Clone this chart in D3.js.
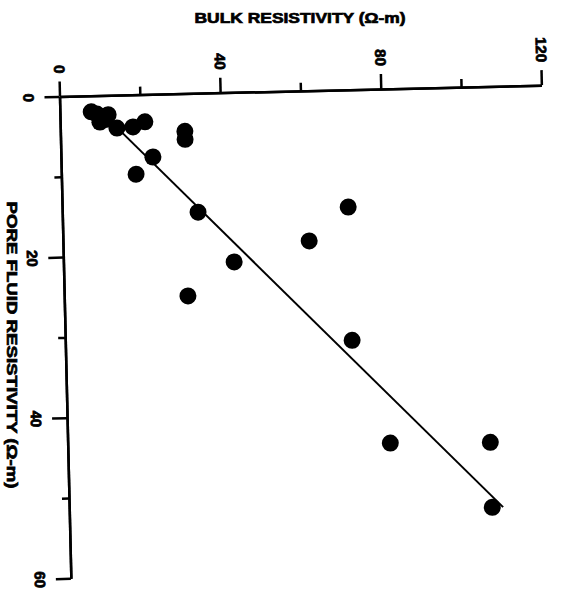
<!DOCTYPE html>
<html>
<head>
<meta charset="utf-8">
<script src="https://cdn.jsdelivr.net/npm/d3@7"></script>
<style>
  body { margin: 0; background: #fff; }
  svg { display: block; }
  text { font-family: "Liberation Sans", Arial, sans-serif; font-weight: bold; fill: #000; stroke: #000; stroke-width: 0.7px; }
</style>
</head>
<body>
<svg id="drawing_region"></svg>
<script>
// values
const bulk = [7.8, 9.2, 9.9, 12.0, 11.2, 14.1, 18.1, 21.1, 31.0, 31.0, 22.9, 18.6,
              33.8, 30.8, 42.5, 61.3, 71.2, 71.4, 80.3, 105.2, 105.3];
const pore = [2.0, 2.3, 3.3, 2.4, 3.0, 4.1, 4.0, 3.4, 4.7, 5.7, 7.8, 9.9,
              14.8, 25.2, 21.1, 18.7, 14.6, 31.2, 44.1, 44.3, 52.4];
// fitted line end points
const fitBulk = [9, 108];
const fitPore = [1.4, 52.4];
const xMajor = [0, 40, 80, 120];
const xMinor = [20, 60, 100];
const yMajor = [0, 20, 40, 60];
const yMinor = [10, 30, 50];

class ScatterPlot {
    constructor( config ) {
        this.config = config;
        this.data = bulk.map( (b, i) => ({ x: b, y: pore[i] }) );
        this.init();
    }

    init() {
        let self = this;
        self.svg = d3.select( self.config.parent )
            .attr('width', self.config.width)
            .attr('height', self.config.height);

        // scan is tilted a little, so the plot frame is too
        self.chart = self.svg.append('g')
            .attr('transform', `translate(${self.config.origin[0]}, ${self.config.origin[1]}) rotate(${self.config.tilt})`);

        self.xscale = d3.scaleLinear().domain([0, 120]).range([0, self.config.len]);
        self.yscale = d3.scaleLinear().domain([0, 60]).range([0, self.config.len]);

        self.svg.append('text')
            .attr('x', 300)
            .attr('y', 23)
            .attr('text-anchor', 'middle')
            .attr('textLength', 211)
            .attr('lengthAdjust', 'spacingAndGlyphs')
            .style('font-size', '15px')
            .text('BULK RESISTIVITY (\u03A9-m)');

        self.svg.append('text')
            .attr('transform', 'translate(12, 345) rotate(90)')
            .attr('text-anchor', 'middle')
            .attr('dy', '0.35em')
            .attr('textLength', 287)
            .attr('lengthAdjust', 'spacingAndGlyphs')
            .style('font-size', '15px')
            .text('PORE FLUID RESISTIVITY (\u03A9-m)');
    }

    render() {
        let self = this;

        const styleAxis = g => {
            g.selectAll('path, line').attr('stroke', '#000').attr('stroke-width', 2.5);
            g.selectAll('text').style('font-size', '15px').style('font-family', null);
        };

        self.chart.append('g')
            .call( d3.axisTop(self.xscale).tickValues(xMinor).tickSize(8).tickSizeOuter(0).tickFormat('') )
            .call(styleAxis);
        self.chart.append('g')
            .call( d3.axisTop(self.xscale).tickValues(xMajor).tickSize(15).tickSizeOuter(0) )
            .call(styleAxis)
            .call( g => g.selectAll('text')
                .attr('x', 0).attr('y', 0).attr('dy', '0.35em')
                .attr('text-anchor', 'end')
                .attr('transform', 'translate(0, -23) rotate(90)') );

        self.chart.append('g')
            .call( d3.axisLeft(self.yscale).tickValues(yMinor).tickSize(7).tickSizeOuter(0).tickFormat('') )
            .call(styleAxis);
        self.chart.append('g')
            .call( d3.axisLeft(self.yscale).tickValues(yMajor).tickSize(15).tickSizeOuter(0) )
            .call(styleAxis)
            .call( g => g.selectAll('text')
                .attr('x', 0).attr('y', 0).attr('dy', '0.35em')
                .attr('text-anchor', 'middle')
                .attr('transform', 'translate(-31, 0) rotate(90)') );

        self.chart.append('path')
            .datum( fitBulk.map( (b, i) => ({ x: b, y: fitPore[i] }) ) )
            .attr('fill', 'none')
            .attr('stroke', '#000')
            .attr('stroke-width', 2)
            .attr('d', d3.line().x( d => self.xscale(d.x) ).y( d => self.yscale(d.y) ));

        self.chart.selectAll('circle')
            .data(self.data)
            .enter()
            .append('circle')
            .attr('cx', d => self.xscale( d.x ) )
            .attr('cy', d => self.yscale( d.y ) )
            .attr('r', 8.5)
            .attr('fill', '#000');
    }
}

const plot = new ScatterPlot({
    parent: '#drawing_region',
    width: 565,
    height: 589,
    origin: [59.5, 96.5],
    tilt: -1.35,
    len: 482
});
plot.render();
</script>
</body>
</html>
